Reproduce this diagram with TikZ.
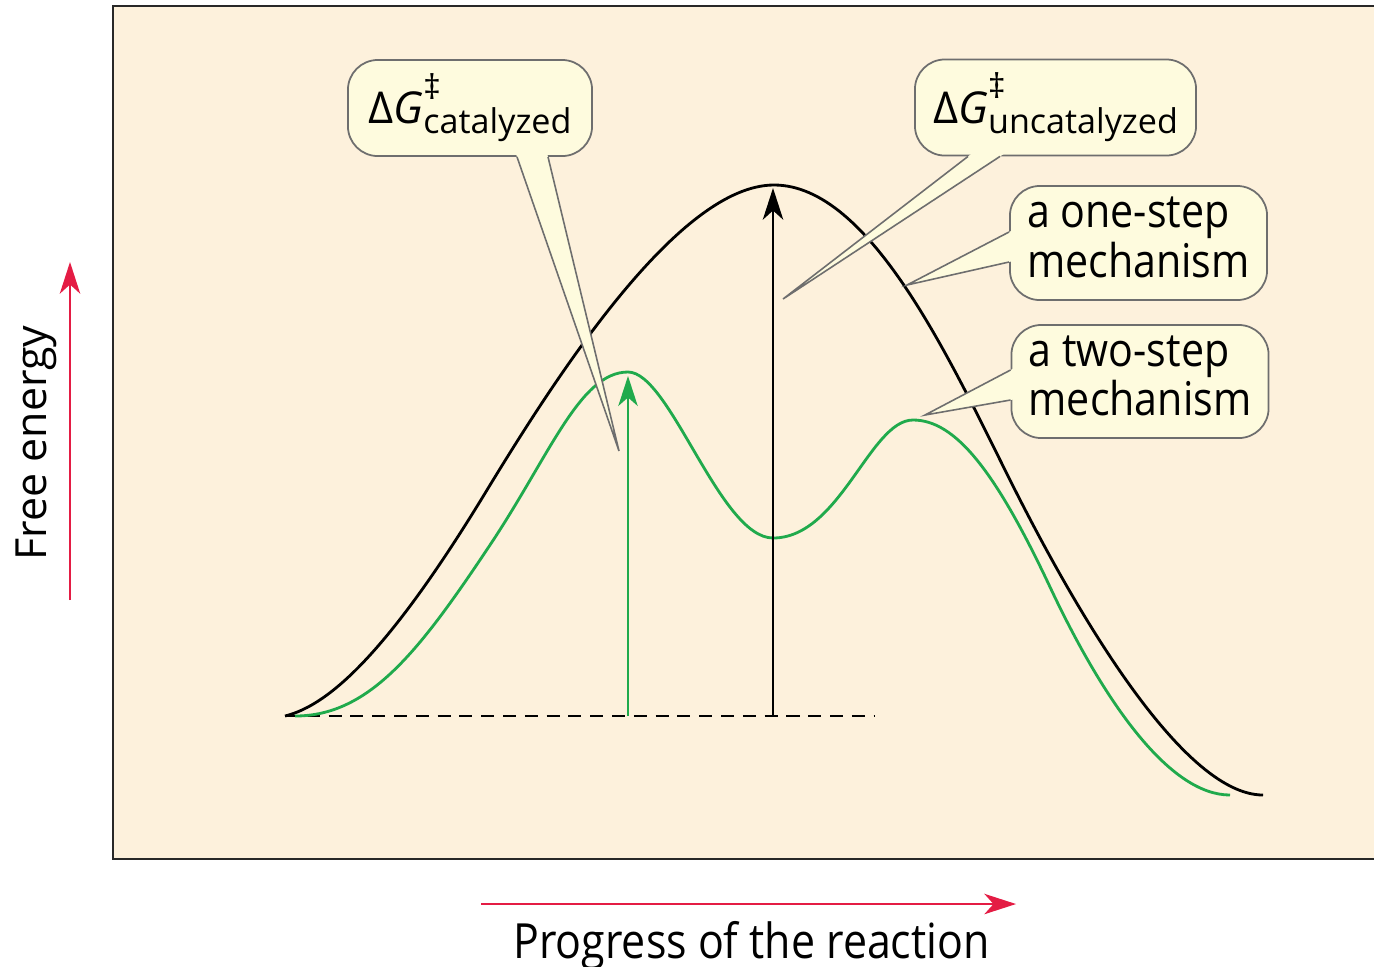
\documentclass[tikz,border=0pt]{standalone}
\usepackage{fontspec}
\setmainfont{Open Sans}
\usepackage{graphicx}
\usetikzlibrary{arrows.meta,calc}

\definecolor{paper}{RGB}{253,241,220}
\definecolor{callfill}{RGB}{254,251,222}
\definecolor{callline}{RGB}{110,110,110}
\definecolor{redarrow}{RGB}{228,28,68}
\definecolor{greencurve}{RGB}{32,170,76}

\newcommand{\tallfont}[1]{\scalebox{1}[1.13]{#1}}
\newcommand{\dGlabel}[1]{{\fontsize{12.5pt}{14pt}\selectfont Δ\textit{G}}\raisebox{-2.85pt}{\begin{tabular}[b]{@{}l@{}}‡\\ #1\end{tabular}}}
\newcommand{\pointer}[3]{%
  \fill[callfill] ($(#1)!-3pt!(#3)$) -- (#3) -- ($(#2)!-3pt!(#3)$) -- cycle;
  \draw[callline, line width=0.45pt] (#1) -- (#3) -- (#2);}

\begin{document}
\begin{tikzpicture}[x=0.01cm,y=-0.01cm,
    callbox/.style={draw=callline, fill=callfill, rounded corners=8.5pt, line width=0.5pt, inner sep=0pt},
    boxtext/.style={font=\fontsize{11.7pt}{11.83pt}\selectfont},
    dgtext/.style={font=\fontsize{9.7pt}{8.3pt}\selectfont},
    axistext/.style={font=\fontsize{12.2pt}{14pt}\selectfont},
    redarr/.style={draw=redarrow, line width=0.65pt, -{Stealth[length=9pt,width=5.8pt,inset=2.6pt]}}]
		\useasboundingbox (0,0) rectangle (1374,966);
		\draw [fill=paper, draw={rgb,255:red,40;green,40;blue,40}, line width=0.75pt] (113,6) rectangle (1400,859);
		
		\coordinate (fe0) at (70,600);
		\coordinate (fe1) at (70,262);
		\coordinate (pr0) at (481,904);
		\coordinate (pr1) at (1016,904);
		\draw [redarr] (fe0) -- (fe1);
		\draw [redarr] (pr0) -- (pr1);
		\node [axistext, rotate=90, anchor=base] (freeenergy) at (46,443) {Free energy};
		\node [axistext, anchor=base] (progress) at (751.5,958) {\tallfont{Progress of the reaction}};
		
		\coordinate (start) at (285,716);
		\coordinate (dashend) at (874,716);
		\coordinate (footG) at (628,716);
		\coordinate (peakG) at (628,376);
		\coordinate (footU) at (773,716);
		\coordinate (peakU) at (773,188);
		\draw [dashed, dash pattern=on 3.7pt off 2.5pt, line width=0.7pt] (start) -- (dashend);
		
		\draw [line width=0.8pt] (285,716) .. controls (330,705) and (390,650) .. (487,490)
			.. controls (560,370) and (680,185) .. (774,185)
			.. controls (870,185) and (950,360) .. (1010,480)
			.. controls (1070,600) and (1180,795) .. (1263,795);
		\draw [greencurve, line width=0.8pt] (295,716) .. controls (370,716) and (420,650) .. (490,545)
			.. controls (550,455) and (580,372) .. (628,372)
			.. controls (670,372) and (720,538) .. (773,538)
			.. controls (840,538) and (870,420) .. (913,420)
			.. controls (955,420) and (995,470) .. (1050,587)
			.. controls (1105,704) and (1170,795) .. (1230,795);
		
		\draw [greencurve, line width=0.8pt, -{Stealth[length=8.5pt,width=5.5pt,inset=2.4pt]}] (footG) -- (peakG);
		\draw [line width=0.8pt, -{Stealth[length=9pt,width=5.8pt,inset=2.6pt]}] (footU) -- (peakU);
		
		\node [callbox, dgtext, minimum width=2.44cm, minimum height=0.96cm] (catbox) at (470,108) {\dGlabel{catalyzed}};
		\node [callbox, dgtext, minimum width=2.81cm, minimum height=0.96cm] (uncbox) at (1055.5,107.5) {\dGlabel{uncatalyzed}};
		\node [callbox, boxtext, minimum width=2.57cm, minimum height=1.14cm] (onestep) at (1138.5,243) {\tallfont{\begin{tabular}{@{}l@{}}a one-step\\ mechanism\end{tabular}}};
		\node [callbox, boxtext, minimum width=2.57cm, minimum height=1.13cm] (twostep) at (1140,381.5) {\tallfont{\begin{tabular}{@{}l@{}}a two-step\\ mechanism\end{tabular}}};
		
		\coordinate (catA) at ($(catbox.south)+(47,0)$);
		\coordinate (catB) at ($(catbox.south)+(78,0)$);
		\coordinate (catTip) at (619,451);
		\coordinate (uncA) at ($(uncbox.south)+(-87.5,0)$);
		\coordinate (uncB) at ($(uncbox.south)+(-55.5,0)$);
		\coordinate (uncTip) at (783,299);
		\coordinate (oneA) at ($(onestep.west)+(0,-11)$);
		\coordinate (oneB) at ($(onestep.west)+(0,19)$);
		\coordinate (oneTip) at (907,285);
		\coordinate (twoA) at ($(twostep.west)+(0,-11.5)$);
		\coordinate (twoB) at ($(twostep.west)+(0,18.5)$);
		\coordinate (twoTip) at (925,415);
		\pointer{catA}{catB}{catTip}
		\pointer{uncA}{uncB}{uncTip}
		\pointer{oneA}{oneB}{oneTip}
		\pointer{twoA}{twoB}{twoTip}
\end{tikzpicture}
\end{document}
